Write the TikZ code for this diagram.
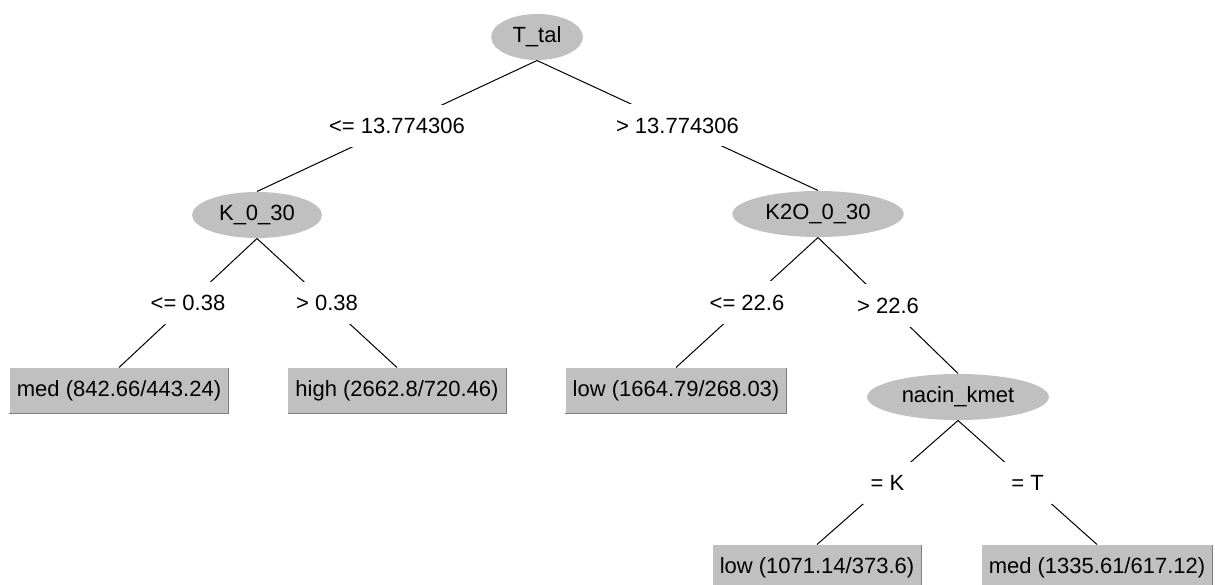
\documentclass[tikz,border=0pt]{standalone}
\usepackage{fontspec}
\setmainfont{Liberation Sans}
\usetikzlibrary{shapes.geometric}
\definecolor{nodegray}{RGB}{192,192,192}
\definecolor{edgegray}{RGB}{128,128,128}
\begin{document}
\begin{tikzpicture}[x=1pt,y=-1pt,
        font=\fontsize{22}{26}\selectfont,
        line width=1pt,
        split/.style={ellipse, fill=nodegray, inner xsep=8pt, minimum height=46pt},
        leaf/.style={rectangle, fill=nodegray, inner xsep=7pt, minimum height=45pt},
        cond/.style={fill=white, inner xsep=8pt, inner ysep=0pt, minimum height=42pt},
        boxedge/.style={draw=edgegray}]
        \useasboundingbox (0,0) rectangle (1215,585);
        \node [split] (a) at (537,37) {T\_tal};
        \node [split] (b) at (257,215) {K\_0\_30};
        \node [split] (c) at (818,214) {K2O\_0\_30};
        \node [leaf] (d) at (119,390.5) {med (842.66/443.24)};
        \node [leaf] (e) at (397,390.5) {high (2662.8/720.46)};
        \node [leaf] (f) at (676,390.5) {low (1664.79/268.03)};
        \node [split] (g) at (958,397) {nacin\_kmet};
        \node [leaf] (h) at (817,567.5) {low (1071.14/373.6)};
        \node [leaf] (i) at (1097,567.5) {med (1335.61/617.12)};
        \draw (a.south) -- node [cond] (ab) {<= 13.774306} (b.north);
        \draw (a.south) -- node [cond] (ac) {> 13.774306} (c.north);
        \draw (b.south) -- node [cond] (bd) {<= 0.38} (d.north);
        \draw (b.south) -- node [cond] (be) {> 0.38} (e.north);
        \draw (c.south) -- node [cond] (cf) {<= 22.6} (f.north);
        \draw (c.south) -- node [cond] (cg) {> 22.6} (g.north);
        \draw (g.south) -- node [cond] (gh) {= K} (h.north);
        \draw (g.south) -- node [cond] (gi) {= T} (i.north);
        \foreach \n in {d,e,f,h,i}
            \draw [boxedge] (\n.north east) -- (\n.south east) -- (\n.south west);
    \end{tikzpicture}
\end{document}
